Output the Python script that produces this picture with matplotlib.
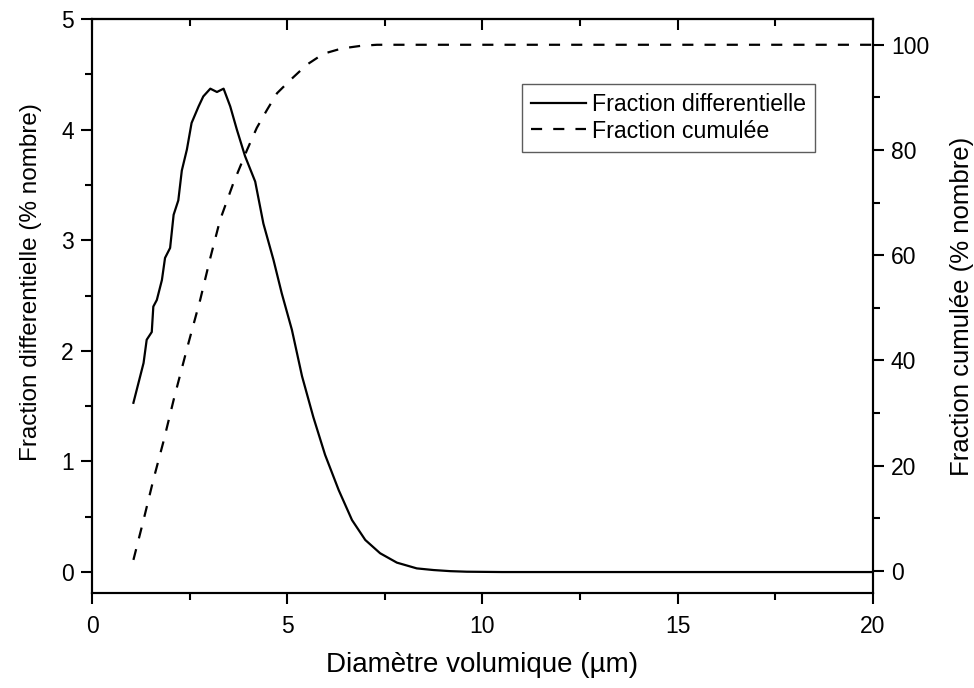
import matplotlib
matplotlib.use("Agg")
import matplotlib.pyplot as plt
from matplotlib.ticker import MultipleLocator

plt.rcParams['font.family'] = ['Liberation Sans', 'DejaVu Sans']

# donnees
diam_diff = [1.06, 1.32, 1.40, 1.53, 1.57, 1.66, 1.79, 1.87, 2.00, 2.09, 2.21, 2.30,
             2.43, 2.55, 2.73, 2.85, 3.03, 3.20, 3.37, 3.54, 3.71, 3.92, 4.18, 4.39,
             4.65, 4.86, 5.12, 5.38, 5.67, 5.97, 6.32, 6.66, 7.00, 7.38, 7.81, 8.32,
             8.75, 9.18, 9.60, 10.5, 12.0, 15.0, 20.0]
frac_diff = [1.53, 1.89, 2.10, 2.17, 2.40, 2.46, 2.64, 2.84, 2.93, 3.23, 3.36, 3.63,
             3.82, 4.06, 4.21, 4.30, 4.37, 4.34, 4.37, 4.21, 4.00, 3.76, 3.53, 3.15,
             2.82, 2.52, 2.19, 1.77, 1.40, 1.06, 0.74, 0.47, 0.29, 0.17, 0.085, 0.033,
             0.018, 0.008, 0.003, 0.0, 0.0, 0.0, 0.0]

diam_cum = [1.06, 1.32, 1.57, 1.83, 2.10, 2.47, 2.77, 3.03, 3.28, 3.62, 3.97, 4.22,
            4.48, 4.74, 5.08, 5.50, 5.93, 6.40, 6.89, 7.30, 8.0, 10.0, 15.0, 20.0]
frac_cum = [2.1, 9.7, 17.3, 24.6, 32.8, 43.3, 51.5, 59.5, 66.7, 73.7, 80.0, 84.2,
            87.6, 90.8, 93.3, 96.2, 98.3, 99.3, 99.8, 100, 100, 100, 100, 100]

fig = plt.figure(figsize=(9.74, 6.88), dpi=100)
ax = fig.add_axes([0.0945, 0.138, 0.8015, 0.8344])
ax2 = ax.twinx()

l1, = ax.plot(diam_diff, frac_diff, 'k-', lw=1.6, label='Fraction differentielle')
l2, = ax2.plot(diam_cum, frac_cum, color='k', lw=1.6, linestyle=(0, (5, 5)),
               label='Fraction cumulée')

ax.set_xlim(0, 20)
ax.set_ylim(-0.19, 5)
ax2.set_ylim(-4.2, 104.9)

ax.xaxis.set_major_locator(MultipleLocator(5))
ax.xaxis.set_minor_locator(MultipleLocator(2.5))
ax.yaxis.set_major_locator(MultipleLocator(1))
ax.yaxis.set_minor_locator(MultipleLocator(0.5))
ax2.yaxis.set_major_locator(MultipleLocator(20))
ax2.yaxis.set_minor_locator(MultipleLocator(10))

for a in (ax, ax2):
    for s in a.spines.values():
        s.set_linewidth(1.5)
    a.tick_params(which='major', length=8, width=1.5, labelsize=16.5, direction='out', pad=5)
    a.tick_params(which='minor', length=5, width=1.5, direction='out')
ax.tick_params(axis='x', pad=8)

# ticks interieurs en haut
top = ax.secondary_xaxis('top')
top.xaxis.set_major_locator(MultipleLocator(5))
top.xaxis.set_minor_locator(MultipleLocator(2.5))
top.tick_params(which='major', length=8, width=1.5, direction='in', labeltop=False)
top.tick_params(which='minor', length=5, width=1.5, direction='in')
top.spines['top'].set_linewidth(1.5)

ax.set_xlabel('Diamètre volumique (µm)', fontsize=20, labelpad=10)
ax.set_ylabel('Fraction differentielle (% nombre)', fontsize=17.5)
ax.yaxis.set_label_coords(-0.064, 0.542)
ax2.set_ylabel('Fraction cumulée (% nombre)', fontsize=18.5, labelpad=15)

leg = ax2.legend(handles=[l1, l2], loc='upper left', bbox_to_anchor=(0.551, 0.887),
                 borderaxespad=0, fontsize=16.7, frameon=True, fancybox=False,
                 handlelength=2.35, handletextpad=0.25, borderpad=0.4, labelspacing=0.15)
leg.get_frame().set_edgecolor('#333333')
leg.get_frame().set_linewidth(1.0)

fig.savefig('out.png', dpi=100)
